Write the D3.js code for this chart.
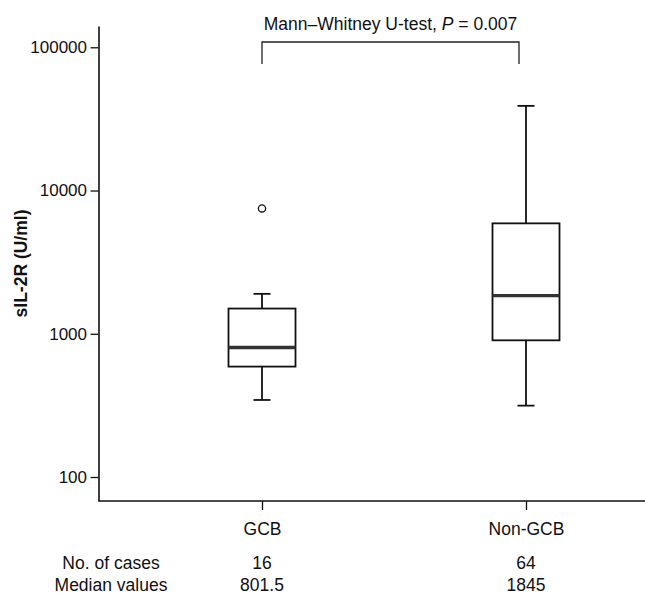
<!DOCTYPE html>
<html lang="en">
<head>
    <meta charset="UTF-8">
    <title>sIL-2R by GCB / Non-GCB</title>
    <style>
        body { margin: 0; background: #fff; }
        svg { display: block; }
        text { font-family: "Liberation Sans", Arial, sans-serif; fill: #111; }
    </style>
</head>
<body>
    <svg id="chart" width="645" height="594"></svg>

    <script src="https://d3js.org/d3.v7.min.js"></script>
    <script>
        // Data
        const groups = ["GCB", "Non-GCB"];
        const whiskerLow = [345, 315];
        const q1 = [590, 900];
        const medians = [801.5, 1845];
        const q3 = [1500, 5900];
        const whiskerHigh = [1900, 39000];
        const outliers = [[7500], []];
        const cases = [16, 64];
        const medianLabels = ["801.5", "1845"];
        const yTicks = [100, 1000, 10000, 100000];
        const testLabel = "Mann\u2013Whitney U-test, ";
        const testP = "0.007";

        // Layout
        const width = 645, height = 594;
        const margin = { top: 26, left: 98.5, bottom: 501 };
        const boxWidth = 67;
        const capHalf = 8.5;

        const svg = d3.select("#chart");

        const y = d3.scaleLog()
            .domain([68, 140800])
            .range([margin.bottom, margin.top]);

        const x = d3.scalePoint()
            .domain(groups)
            .range([margin.left + 163.5, margin.left + 427.5]);

        const stats = groups.map((g, i) => ({
            name: g,
            lo: whiskerLow[i], q1: q1[i], med: medians[i], q3: q3[i], hi: whiskerHigh[i],
            out: outliers[i]
        }));

        // Y axis
        const yAxis = svg.append("g")
            .attr("transform", `translate(${margin.left},0)`)
            .call(d3.axisLeft(y)
                .tickValues(yTicks)
                .tickFormat(d3.format("d"))
                .tickSize(8)
                .tickSizeOuter(0)
                .tickPadding(3.5));
        yAxis.select(".domain").attr("stroke", "#111").attr("stroke-width", 1.6);
        yAxis.selectAll(".tick line").attr("stroke", "#111").attr("stroke-width", 1.3);
        yAxis.selectAll(".tick text").attr("font-size", "17px").attr("font-family", null);

        // X axis: baseline runs to the right edge
        svg.append("line")
            .attr("x1", margin.left).attr("x2", width)
            .attr("y1", margin.bottom).attr("y2", margin.bottom)
            .attr("stroke", "#111").attr("stroke-width", 1.6);
        const xAxis = svg.append("g")
            .attr("transform", `translate(0,${margin.bottom})`)
            .call(d3.axisBottom(x).tickSize(9).tickSizeOuter(0).tickPadding(13));
        xAxis.select(".domain").remove();
        xAxis.selectAll(".tick line").attr("stroke", "#111").attr("stroke-width", 1.3);
        xAxis.selectAll(".tick text").attr("font-size", "17.5px").attr("font-family", null);

        // Y axis title
        svg.append("text")
            .attr("transform", `translate(27,${(margin.top + margin.bottom) / 2}) rotate(-90)`)
            .attr("text-anchor", "middle")
            .attr("font-size", "17.5px")
            .attr("font-weight", "bold")
            .text("sIL-2R (U/ml)");

        // Boxes
        const box = svg.selectAll(".box")
            .data(stats)
            .enter()
            .append("g")
            .attr("class", "box");

        box.append("line")
            .attr("x1", d => x(d.name)).attr("x2", d => x(d.name))
            .attr("y1", d => y(d.hi)).attr("y2", d => y(d.q3))
            .attr("stroke", "#111").attr("stroke-width", 1.8);
        box.append("line")
            .attr("x1", d => x(d.name)).attr("x2", d => x(d.name))
            .attr("y1", d => y(d.q1)).attr("y2", d => y(d.lo))
            .attr("stroke", "#111").attr("stroke-width", 1.8);
        box.append("line")
            .attr("x1", d => x(d.name) - capHalf).attr("x2", d => x(d.name) + capHalf)
            .attr("y1", d => y(d.hi)).attr("y2", d => y(d.hi))
            .attr("stroke", "#111").attr("stroke-width", 1.8);
        box.append("line")
            .attr("x1", d => x(d.name) - capHalf).attr("x2", d => x(d.name) + capHalf)
            .attr("y1", d => y(d.lo)).attr("y2", d => y(d.lo))
            .attr("stroke", "#111").attr("stroke-width", 1.8);

        box.append("rect")
            .attr("x", d => x(d.name) - boxWidth / 2)
            .attr("width", boxWidth)
            .attr("y", d => y(d.q3))
            .attr("height", d => y(d.q1) - y(d.q3))
            .attr("fill", "none")
            .attr("stroke", "#111")
            .attr("stroke-width", 1.8);

        box.append("line")
            .attr("x1", d => x(d.name) - boxWidth / 2).attr("x2", d => x(d.name) + boxWidth / 2)
            .attr("y1", d => y(d.med)).attr("y2", d => y(d.med))
            .attr("stroke", "#333").attr("stroke-width", 3.4);

        box.selectAll(".outlier")
            .data(d => d.out.map(v => ({ name: d.name, v })))
            .enter()
            .append("circle")
            .attr("class", "outlier")
            .attr("cx", d => x(d.name))
            .attr("cy", d => y(d.v))
            .attr("r", 3.6)
            .attr("fill", "#fff")
            .attr("stroke", "#111")
            .attr("stroke-width", 1.3);

        // Significance bracket
        const bx1 = x(groups[0]);
        const bx2 = x(groups[1]) - 7;
        const bTop = 42, bBottom = 64;
        svg.append("path")
            .attr("d", `M${bx1},${bBottom}V${bTop}H${bx2}V${bBottom}`)
            .attr("fill", "none")
            .attr("stroke", "#222")
            .attr("stroke-width", 1.3);

        const title = svg.append("text")
            .attr("x", (bx1 + bx2) / 2)
            .attr("y", 30)
            .attr("text-anchor", "middle")
            .attr("font-size", "17.5px");
        title.append("tspan").text(testLabel);
        title.append("tspan").attr("font-style", "italic").text("P");
        title.append("tspan").text(" = " + testP);

        // Table below the axis
        const rows = [
            { label: "No. of cases", values: cases.map(String), y: 569 },
            { label: "Median values", values: medianLabels, y: 591 }
        ];
        rows.forEach(r => {
            svg.append("text")
                .attr("x", 111)
                .attr("y", r.y)
                .attr("text-anchor", "middle")
                .attr("font-size", "17.5px")
                .text(r.label);
            svg.selectAll(null)
                .data(r.values)
                .enter()
                .append("text")
                .attr("x", (d, i) => x(groups[i]))
                .attr("y", r.y)
                .attr("text-anchor", "middle")
                .attr("font-size", "17.5px")
                .text(d => d);
        });
    </script>
</body>
</html>
